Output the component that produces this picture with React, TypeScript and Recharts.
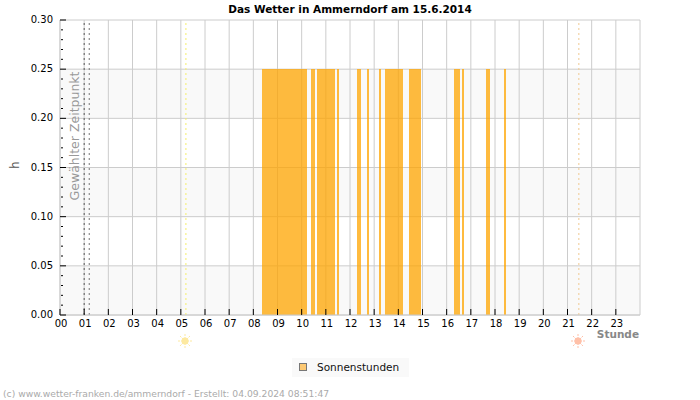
import React from 'react'
import {
  ComposedChart, Bar, XAxis, YAxis, CartesianGrid, ReferenceLine
} from 'recharts'

const FONT = '"DejaVu Sans", sans-serif'

// 5 minute slots of the day with sunshine
const sunSlots = [
  101, 102, 103, 104, 105, 106, 107, 108, 109, 110, 111, 112, 113, 114, 115, 116, 117, 118, 119, 120, 121, 122,
  125, 126,
  128, 129, 130, 131, 132, 133, 134, 135, 136,
  138,
  148, 149,
  153,
  159,
  162, 163, 164, 165, 166, 167, 168, 169, 170,
  174, 175, 176, 177, 178, 179,
  196, 197, 198,
  200,
  212, 213,
  221
]
const sunValue = 0.25

const hourTicks = [0, 1, 2, 3, 4, 5, 6, 7, 8, 9, 10, 11, 12, 13, 14, 15, 16, 17, 18, 19, 20, 21, 22, 23]
const gridHours = [0, 1, 2, 3, 4, 5, 6, 7, 8, 9, 10, 11, 12, 13, 14, 15, 16, 17, 18, 19, 20, 21, 22, 23, 24]
const majorTicks = [0, 0.05, 0.1, 0.15, 0.2, 0.25, 0.3]
const yTicks = [
  0, 0.01, 0.02, 0.03, 0.04, 0.05, 0.06, 0.07, 0.08, 0.09, 0.1, 0.11, 0.12, 0.13, 0.14, 0.15,
  0.16, 0.17, 0.18, 0.19, 0.2, 0.21, 0.22, 0.23, 0.24, 0.25, 0.26, 0.27, 0.28, 0.29, 0.3
]

const selectedHour = 1
const selectedEndHour = 1.21
const sunriseHour = 5.21
const sunsetHour = 21.47

const data = sunSlots.map((slot) => ({ hour: slot / 12, sun: sunValue }))

// snapped to whole pixels, otherwise neighbouring slots leave pale seams
const SlotBar = ({ x, y, width, height, fill }: any) => (
  <rect
    x={x + width / 2 - 1}
    y={y}
    width={2.02}
    height={height}
    fill={fill}
    shapeRendering="crispEdges"
  />
)

const XTick = ({ x, y, payload }: any) => (
  <g>
    <line x1={x} x2={x} y1={y - 6} y2={y} stroke="#000" />
    <text x={x + 1} y={y + 12} textAnchor="middle" fontSize={10} fontFamily={FONT} fill="#000">
      {String(payload.value).padStart(2, '0')}
    </text>
  </g>
)

const YTick = ({ x, y, payload }: any) => {
  const major = majorTicks.includes(payload.value)
  return (
    <g>
      <line x1={major ? x : x + 1} x2={major ? x + 6 : x + 3} y1={y} y2={y} stroke="#000" />
      {major && (
        <text x={x - 7} y={y + 3} textAnchor="end" fontSize={10} fontFamily={FONT} fill="#000">
          {payload.value.toFixed(2)}
        </text>
      )}
    </g>
  )
}

const SelectedLabel = ({ viewBox }: any) => (
  <text
    transform={`translate(${viewBox.x - 5} 136) rotate(-90)`}
    textAnchor="middle"
    fontSize={12.5}
    fontFamily={FONT}
    fill="#999"
  >
    Gewählter Zeitpunkt
  </text>
)

const SunLegend = () => (
  <div style={{
    position: 'absolute', left: 292, top: 358, width: 117, height: 19, background: '#f9f9f9',
    fontFamily: FONT, fontSize: 10.5, color: '#111', lineHeight: '18px'
  }}>
    <span style={{
      position: 'absolute', left: 7, top: 5, width: 6, height: 6,
      background: '#fdc973', border: '1px solid #777'
    }} />
    <span style={{ position: 'absolute', left: 25, top: 0 }}>Sonnenstunden</span>
  </div>
)

const SunIcon = ({ left, color }: { left: number, color: string }) => (
  <svg width={14} height={14} style={{ position: 'absolute', left: left - 7, top: 334 }}>
    <g stroke={color} strokeWidth={1} strokeDasharray="2 1">
      <line x1={7} y1={0} x2={7} y2={14} />
      <line x1={0} y1={7} x2={14} y2={7} />
      <line x1={2} y1={2} x2={12} y2={12} />
      <line x1={12} y1={2} x2={2} y2={12} />
    </g>
    <circle cx={7} cy={7} r={3.5} fill={color} />
  </svg>
)

const App = () => (
  <div style={{ position: 'absolute', left: 0, top: 0, width: 700, height: 400, background: '#fff' }}>
    <style>{'.recharts-bar-rectangles{opacity:.75}'}</style>
    <ComposedChart
      width={700}
      height={400}
      data={data}
      margin={{ top: 20, right: 60, left: 0, bottom: 0 }}
    >
      <CartesianGrid
        stroke="#ccc"
        horizontalValues={majorTicks}
        verticalValues={gridHours}
        horizontalFill={['#fff', '#f9f9f9']}
      />
      <XAxis
        dataKey="hour"
        type="number"
        domain={[0, 24]}
        ticks={hourTicks}
        interval={0}
        height={85}
        stroke="#ccc"
        tickLine={false}
        tickSize={0}
        tickMargin={0}
        tick={<XTick />}
        allowDataOverflow
      />
      <YAxis
        domain={[0, 0.3]}
        ticks={yTicks}
        interval={0}
        width={60}
        stroke="#ccc"
        tickLine={false}
        tickSize={0}
        tickMargin={0}
        tick={<YTick />}
      />
      <Bar
        dataKey="sun"
        name="Sonnenstunden"
        fill="#ffa500"
        barSize={2}
        shape={<SlotBar />}
        isAnimationActive={false}
      />
      <ReferenceLine x={selectedHour} stroke="#555" strokeDasharray="2 3" label={<SelectedLabel />} />
      <ReferenceLine x={selectedEndHour} stroke="#777" strokeDasharray="2 3" />
      <ReferenceLine x={sunriseHour} stroke="#f5ee6a" strokeDasharray="2 3" />
      <ReferenceLine x={sunsetHour} stroke="#f0c890" strokeDasharray="2 3" />
      <text x={350} y={13} textAnchor="middle" fontSize={10.5} fontWeight="bold" fontFamily={FONT} fill="#000">
        Das Wetter in Ammerndorf am 15.6.2014
      </text>
      <text x={639} y={338} textAnchor="end" fontSize={10.5} fontWeight="bold" fontFamily={FONT} fill="#888">
        Stunde
      </text>
      <text
        transform="translate(19 165) rotate(-90)"
        textAnchor="middle"
        fontSize={11.5}
        fontFamily={FONT}
        fill="#555"
      >
        h
      </text>
      <text x={3} y={397} fontSize={9.2} fontFamily={FONT} fill="#aaa">
        (c) www.wetter-franken.de/ammerndorf - Erstellt: 04.09.2024 08:51:47
      </text>
    </ComposedChart>
    <SunIcon left={184.5} color="#fde9a0" />
    <SunIcon left={578} color="#ffc0a8" />
    <SunLegend />
  </div>
)

export default App
